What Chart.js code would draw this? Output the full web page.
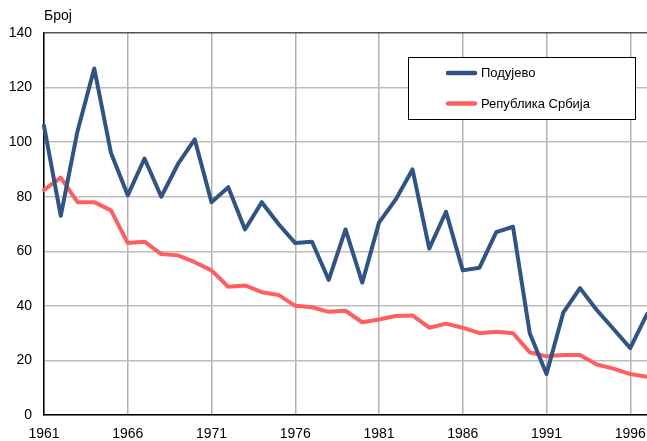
<!DOCTYPE html>
<html>
<head>
<meta charset="utf-8">
<script src="https://cdn.jsdelivr.net/npm/chart.js@4"></script>
<style>
  html, body { margin: 0; padding: 0; background: #fff; }
  canvas { display: block; }
</style>
</head>
<body>
<canvas id="chart" width="647" height="441"></canvas>
<script>
const years = [1961, 1962, 1963, 1964, 1965, 1966, 1967, 1968, 1969, 1970,
  1971, 1972, 1973, 1974, 1975, 1976, 1977, 1978, 1979, 1980,
  1981, 1982, 1983, 1984, 1985, 1986, 1987, 1988, 1989, 1990,
  1991, 1992, 1993, 1994, 1995, 1996, 1997];

const podujevo = [106, 73, 104, 127, 96, 80.5, 94, 80, 92, 101,
  78, 83.5, 68, 78, 70, 63, 63.5, 49.5, 68, 48.5,
  70.5, 79, 90, 61, 74.5, 53, 54, 67, 69, 30,
  15, 37.5, 46.5, 38.5, 31.5, 24.5, 37];

const srbija = [82.5, 87, 78, 78, 75, 63, 63.5, 59, 58.5, 56,
  53, 47, 47.5, 45, 44, 40, 39.5, 37.8, 38.2, 34,
  35, 36.3, 36.5, 32, 33.5, 32, 30, 30.5, 30, 23,
  21.5, 22, 22, 18.5, 17, 15, 14];

const seriesNames = ['Подујево', 'Република Србија'];
const yTitle = 'Број';

const blue = '#2f5485';
const red = '#fe6061';
const font = 'Arial, "Liberation Sans", sans-serif';

// legend box drawn inside the plot, plus the y caption
const extras = {
  id: 'extras',
  afterDraw(chart) {
    const ctx = chart.ctx;
    ctx.save();
    ctx.fillStyle = '#000';
    ctx.font = '14px ' + font;
    ctx.textBaseline = 'alphabetic';
    ctx.textAlign = 'left';
    ctx.fillText(yTitle, 44, 20);

    const bx = 408.5, by = 57.5, bw = 227, bh = 62;
    ctx.fillStyle = '#fff';
    ctx.fillRect(bx, by, bw, bh);
    ctx.strokeStyle = '#000';
    ctx.lineWidth = 1;
    ctx.strokeRect(bx, by, bw, bh);

    ctx.font = '13px ' + font;
    ctx.textBaseline = 'middle';
    chart.data.datasets.forEach((ds, i) => {
      const y = 73 + i * 30.5;
      ctx.strokeStyle = ds.borderColor;
      ctx.lineWidth = 4.5;
      ctx.lineCap = 'round';
      ctx.beginPath();
      ctx.moveTo(448, y);
      ctx.lineTo(475, y);
      ctx.stroke();
      ctx.fillStyle = '#000';
      ctx.fillText(ds.label, 481, y + 0.5);
    });
    ctx.restore();
  }
};

new Chart(document.getElementById('chart'), {
  type: 'line',
  data: {
    labels: years,
    datasets: [
      { label: seriesNames[0], data: podujevo, borderColor: blue, backgroundColor: blue },
      { label: seriesNames[1], data: srbija, borderColor: red, backgroundColor: red }
    ]
  },
  options: {
    responsive: false,
    animation: false,
    layout: { padding: { top: 33, right: 0, left: 0, bottom: 0 } },
    elements: {
      point: { radius: 0 },
      line: { borderWidth: 4, tension: 0, borderJoinStyle: 'round', borderCapStyle: 'round' }
    },
    plugins: {
      legend: { display: false },
      tooltip: { enabled: false }
    },
    scales: {
      x: {
        offset: false,
        afterFit(scale) {
          scale.height = 26;
          scale.paddingLeft = 0;
          scale.paddingRight = 0;
        },
        grid: {
          drawTicks: false,
          color: c => (c.index % 5 === 0 ? '#b2b2b2' : 'rgba(0,0,0,0)'),
          lineWidth: 1.5
        },
        border: { display: true, color: '#000', width: 1.5 },
        ticks: {
          autoSkip: false,
          maxRotation: 0,
          padding: 11,
          color: '#000',
          font: { family: font, size: 14 },
          callback(val, i) { return i % 5 === 0 ? this.getLabelForValue(val) : ''; }
        }
      },
      y: {
        min: 0,
        max: 140,
        afterFit(scale) { scale.width = 44; },
        grid: {
          drawTicks: false,
          color: c => (c.tick && c.tick.value === 140 ? '#555' : '#bdbdbd'),
          lineWidth: 1.5
        },
        border: { display: true, color: '#000', width: 1.5 },
        ticks: {
          stepSize: 20,
          padding: 12,
          color: '#000',
          font: { family: font, size: 14 }
        }
      }
    }
  },
  plugins: [extras]
});
</script>
</body>
</html>
